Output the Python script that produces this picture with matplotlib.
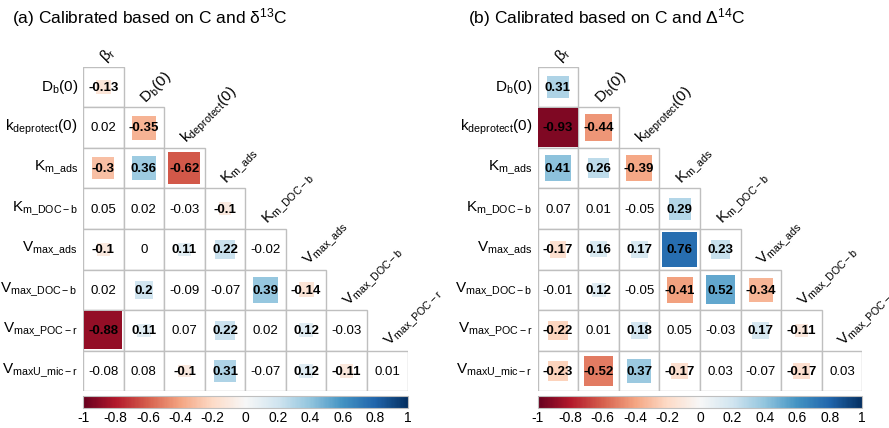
import numpy as np
import matplotlib
matplotlib.use("Agg")
import matplotlib.pyplot as plt
from matplotlib.patches import Rectangle
from matplotlib.colors import Normalize
from matplotlib.cm import ScalarMappable

plt.rcParams['font.family'] = ['Liberation Sans', 'DejaVu Sans']
plt.rcParams['mathtext.fontset'] = 'custom'
plt.rcParams['mathtext.rm'] = 'Liberation Sans'
plt.rcParams['mathtext.it'] = 'Liberation Sans:italic'
plt.rcParams['mathtext.bf'] = 'Liberation Sans:bold'

# ---------------- data ----------------
col_labels = [r'$\mathregular{β_r}$', r'$\mathregular{D_b(0)}$', r'$\mathregular{k_{deprotect}(0)}$',
              r'$\mathregular{K_{m\_ads}}$', r'$\mathregular{K_{m\_DOC-b}}$', r'$\mathregular{V_{max\_ads}}$',
              r'$\mathregular{V_{max\_DOC-b}}$', r'$\mathregular{V_{max\_POC-r}}$']
row_labels = [r'$\mathregular{D_b(0)}$', r'$\mathregular{k_{deprotect}(0)}$', r'$\mathregular{K_{m\_ads}}$',
              r'$\mathregular{K_{m\_DOC-b}}$', r'$\mathregular{V_{max\_ads}}$', r'$\mathregular{V_{max\_DOC-b}}$',
              r'$\mathregular{V_{max\_POC-r}}$', r'$\mathregular{V_{maxU\_mic-r}}$']

corr_a = [
    [-0.13],
    [0.02, -0.35],
    [-0.3, 0.36, -0.62],
    [0.05, 0.02, -0.03, -0.1],
    [-0.1, 0, 0.11, 0.22, -0.02],
    [0.02, 0.2, -0.09, -0.07, 0.39, -0.14],
    [-0.88, 0.11, 0.07, 0.22, 0.02, 0.12, -0.03],
    [-0.08, 0.08, -0.1, 0.31, -0.07, 0.12, -0.11, 0.01],
]
sig_a = [
    [1],
    [0, 1],
    [1, 1, 1],
    [0, 0, 0, 1],
    [1, 0, 1, 1, 0],
    [0, 1, 0, 0, 1, 1],
    [1, 1, 0, 1, 0, 1, 0],
    [0, 0, 1, 1, 0, 1, 1, 0],
]
corr_b = [
    [0.31],
    [-0.93, -0.44],
    [0.41, 0.26, -0.39],
    [0.07, 0.01, -0.05, 0.29],
    [-0.17, 0.16, 0.17, 0.76, 0.23],
    [-0.01, 0.12, -0.05, -0.41, 0.52, -0.34],
    [-0.22, 0.01, 0.18, 0.05, -0.03, 0.17, -0.11],
    [-0.23, -0.52, 0.37, -0.17, 0.03, -0.07, -0.17, 0.03],
]
sig_b = [
    [1],
    [1, 1],
    [1, 1, 1],
    [0, 0, 0, 1],
    [1, 1, 1, 1, 1],
    [0, 1, 0, 1, 1, 1],
    [1, 0, 1, 0, 0, 1, 1],
    [1, 1, 1, 1, 0, 0, 1, 0],
]
titles = [r'(a) Calibrated based on C and $\mathregular{δ^{13}}$C',
          r'(b) Calibrated based on C and $\mathregular{Δ^{14}}$C']
cbar_ticks = [-1, -0.8, -0.6, -0.4, -0.2, 0, 0.2, 0.4, 0.6, 0.8, 1]

# ---------------- figure ----------------
W, H = 889, 428
fig = plt.figure(figsize=(W / 100, H / 100), dpi=100)
cmap = plt.get_cmap('RdBu')
norm = Normalize(-1, 1)
grid_col = '#BFBFBF'

def panel(x0, corr, sig, title, tx):
    gw = 324.6
    top = 66.7
    ax = fig.add_axes([x0 / W, 1 - (top + gw) / H, gw / W, gw / H])
    ax.set_xlim(0, 8)
    ax.set_ylim(8, 0)
    ax.axis('off')
    n = len(corr)
    for i in range(n):
        for j, v in enumerate(corr[i]):
            ax.add_patch(Rectangle((j, i), 1, 1, facecolor='white', edgecolor=grid_col,
                                   linewidth=1.0, zorder=1))
            if sig[i][j]:
                s = np.sqrt(abs(v))
                ax.add_patch(Rectangle((j + 0.5 - s / 2, i + 0.5 - s / 2), s, s,
                                       facecolor=cmap(norm(v)), edgecolor='none', zorder=2))
            ax.text(j + 0.5, i + 0.52, '{:g}'.format(v), ha='center', va='center',
                    fontsize=9.5, fontweight='bold' if sig[i][j] else 'normal',
                    color='black', zorder=3)
    for i, lab in enumerate(row_labels):
        ax.text(-0.13, i + 0.5, lab, ha='right', va='center', fontsize=11, clip_on=False)
    for j, lab in enumerate(col_labels):
        ax.text(j + 0.55, j - 0.1, lab, ha='left', va='baseline', rotation=45,
                rotation_mode='anchor', fontsize=11, clip_on=False)
    fig.text(tx / W, 1 - 18 / H, title, ha='left', va='center', fontsize=12.5)
    cax = fig.add_axes([x0 / W, 1 - 408.3 / H, gw / W, 12.6 / H])
    cb = fig.colorbar(ScalarMappable(norm=norm, cmap=cmap), cax=cax, orientation='horizontal')
    cb.set_ticks(cbar_ticks)
    cb.set_ticklabels(['{:g}'.format(t) for t in cbar_ticks])
    cb.ax.tick_params(length=0, labelsize=10, pad=2)
    cb.outline.set_edgecolor('#BFBFBF')
    cb.outline.set_linewidth(0.8)

panel(83.0, corr_a, sig_a, titles[0], 12)
panel(537.7, corr_b, sig_b, titles[1], 468)

fig.savefig('out.png', dpi=100)
